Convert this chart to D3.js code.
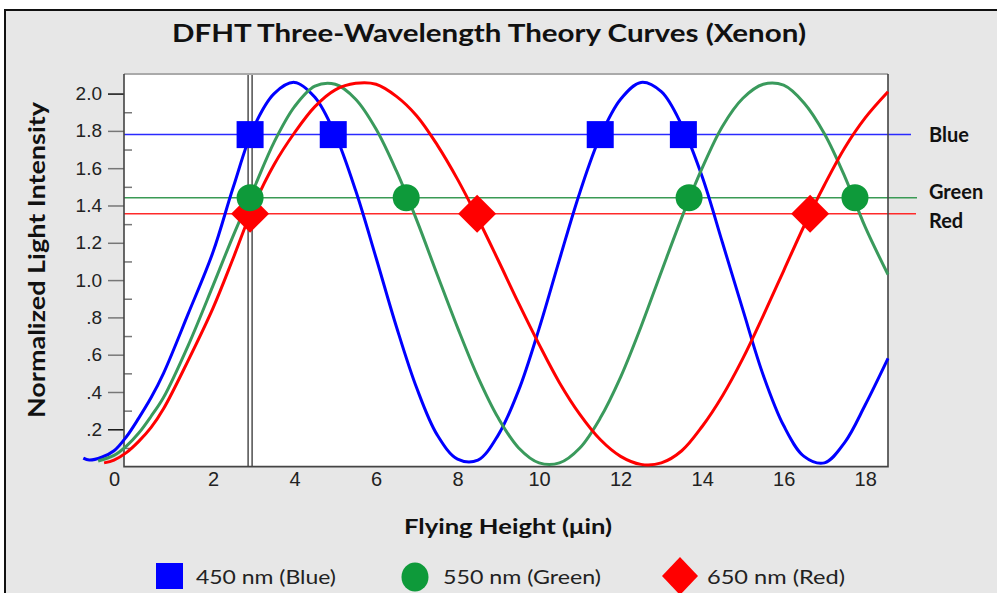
<!DOCTYPE html>
<html><head><meta charset="utf-8">
<script src="https://cdn.jsdelivr.net/npm/d3@7"></script>
<style>html,body{margin:0;padding:0;background:#fff;}svg{display:block}</style>
</head><body><svg id="c" width="997" height="593"></svg>
<script>
// ---------------- DATA ----------------
const titleText = "DFHT Three-Wavelength Theory Curves (Xenon)";
const xTitle = "Flying Height (\u03bcin)";
const yTitle = "Normalized Light Intensity";
const xTicks = [0, 2, 4, 6, 8, 10, 12, 14, 16, 18];
const yMajor = [0.2, 0.4, 0.6, 0.8, 1.0, 1.2, 1.4, 1.6, 1.8, 2.0];
const yMajorLabels = [".2", ".4", ".6", ".8", "1.0", "1.2", "1.4", "1.6", "1.8", "2.0"];
const yMinor = [0.1, 0.3, 0.5, 0.7, 0.9, 1.1, 1.3, 1.5, 1.7, 1.9];

const seriesNames = ["Blue", "Green", "Red"];
const legendLabels = ["450 nm (Blue)", "550 nm (Green)", "650 nm (Red)"];
const referenceLevels = [1.78, 1.442, 1.356];   // Blue, Green, Red horizontal lines
const referenceHeight = 2.91;                    // vertical double line

const blueCurve = [[-0.62,0.045],[-0.5,0.035],[-0.25,0.05],[0,0.085],[0.25,0.16],[0.5,0.26],[0.75,0.37],[1,0.5],[1.5,0.82],[2,1.15],[2.5,1.5],[3,1.82],[3.5,2.0],[4,2.06],[4.5,1.98],[5,1.78],[5.5,1.48],[6,1.12],[6.5,0.75],[7,0.42],[7.5,0.17],[8,0.04],[8.5,0.035],[9,0.17],[9.5,0.41],[10,0.74],[10.5,1.11],[11,1.47],[11.5,1.77],[12,1.97],[12.5,2.06],[13,2.01],[13.5,1.83],[14,1.555],[14.5,1.2],[15,0.84],[15.5,0.49],[16,0.22],[16.5,0.055],[17,0.02],[17.5,0.13],[18,0.33],[18.56,0.58]];
const greenCurve = [[-0.32,0.03],[0,0.06],[0.25,0.11],[0.5,0.18],[0.75,0.27],[1,0.37],[1.5,0.65],[2,0.97],[2.5,1.24],[3,1.49],[3.5,1.74],[4,1.93],[4.5,2.04],[5,2.05],[5.5,1.97],[6,1.81],[6.5,1.585],[7,1.32],[7.5,1.03],[8,0.745],[8.5,0.48],[9,0.26],[9.5,0.1],[10,0.02],[10.5,0.02],[11,0.1],[11.5,0.26],[12,0.48],[12.5,0.75],[13,1.045],[13.5,1.335],[14,1.6],[14.5,1.825],[15,1.975],[15.5,2.05],[16,2.045],[16.5,1.95],[17,1.785],[17.5,1.555],[18,1.285],[18.56,1.03]];
const redCurve = [[-0.2,0.02],[0,0.035],[0.25,0.075],[0.5,0.135],[0.75,0.21],[1,0.31],[1.5,0.57],[2,0.85],[2.5,1.12],[3,1.4],[3.5,1.62],[4,1.79],[4.5,1.93],[5,2.02],[5.5,2.055],[6,2.05],[6.5,1.985],[7,1.88],[7.5,1.725],[8,1.54],[8.5,1.33],[9,1.105],[9.5,0.875],[10,0.655],[10.5,0.45],[11,0.28],[11.5,0.145],[12,0.055],[12.5,0.012],[13,0.02],[13.5,0.085],[14,0.215],[14.5,0.38],[15,0.58],[15.5,0.81],[16,1.05],[16.5,1.29],[17,1.51],[17.5,1.71],[18,1.87],[18.56,2.01]];

const blueMarkers = [2.91, 4.95, 11.5, 13.54];
const greenMarkers = [2.91, 6.74, 13.68, 17.75];
const redMarkers = [2.91, 8.48, 16.65];

// ---------------- LAYOUT / STYLE ----------------
const W = 997, H = 593;
const plot = {left: 124, right: 888, top: 74, bottom: 466.6};
const curveColors = ["#0000ff", "#3a9a5c", "#ff0000"];
const markerColors = ["#0000ff", "#0e9a3a", "#ff0000"];
const refColors = ["#2a2aff", "#3a9a55", "#ff2a2a"];

const x = d3.scaleLinear().domain([0, 2, 18.56]).range([plot.left - 10, plot.left + 89, plot.right]);
const y = d3.scaleLinear().domain([0, 2.105]).range([plot.bottom, plot.top]);

const svg = d3.select("#c");

// frame background
svg.append("rect").attr("x", 0).attr("y", 0).attr("width", W).attr("height", H).attr("fill", "#fff");
svg.append("rect").attr("x", 4).attr("y", 9).attr("width", W - 4).attr("height", H - 9).attr("fill", "#e7e7e7");
svg.append("path").attr("d", `M5,${H} V10 H${W}`).attr("fill", "none").attr("stroke", "#111").attr("stroke-width", 2);

// title
svg.append("text").attr("x", 489).attr("y", 42).attr("text-anchor", "middle")
  .attr("font-family", "Lato, 'Open Sans', sans-serif").attr("font-weight", "bold").attr("font-size", 24)
  .attr("fill", "#111").attr("textLength", 634).attr("lengthAdjust", "spacingAndGlyphs").text(titleText);

// plot area
svg.append("rect").attr("x", plot.left).attr("y", plot.top).attr("width", plot.right - plot.left)
  .attr("height", plot.bottom - plot.top).attr("fill", "#fff");

// y axis major ticks
const yAxis = d3.axisLeft(y).tickValues(yMajor).tickFormat((d, i) => yMajorLabels[i]).tickSize(16).tickPadding(6);
const gy = svg.append("g").attr("transform", `translate(${plot.left},0)`).call(yAxis);
gy.select(".domain").remove();
gy.selectAll(".tick line").attr("stroke", (d, i) => (i === 0 || i === yMajor.length - 1) ? "#111" : "#777").attr("stroke-width", 1.5);
gy.selectAll(".tick text").attr("font-family", "'Liberation Sans', Arial, sans-serif").attr("font-size", 19).attr("fill", "#222");

// y axis minor ticks (inside)
const yMinorAxis = d3.axisRight(y).tickValues(yMinor).tickFormat("").tickSize(8);
const gym = svg.append("g").attr("transform", `translate(${plot.left},0)`).call(yMinorAxis);
gym.select(".domain").remove();
gym.selectAll(".tick line").attr("stroke", "#777").attr("stroke-width", 1.5);

// x axis labels
const xAxis = d3.axisBottom(x).tickValues(xTicks).tickFormat(d3.format("d")).tickSize(0).tickPadding(5);
const gx = svg.append("g").attr("transform", `translate(0,${plot.bottom})`).call(xAxis);
gx.select(".domain").remove();
gx.selectAll(".tick text").attr("font-family", "'Liberation Sans Narrow', 'Liberation Sans', Arial, sans-serif").attr("font-size", 20).attr("fill", "#222");

// horizontal reference lines
const refEnds = [911, 917, 916];
svg.append("g").selectAll("line").data(referenceLevels).join("line")
  .attr("x1", plot.left).attr("x2", (d, i) => refEnds[i])
  .attr("y1", d => y(d)).attr("y2", d => y(d))
  .attr("stroke", (d, i) => refColors[i]).attr("stroke-width", 1.5);

// vertical double line
svg.append("g").selectAll("line").data([-2, 2]).join("line")
  .attr("x1", d => x(referenceHeight) + d).attr("x2", d => x(referenceHeight) + d)
  .attr("y1", plot.top).attr("y2", plot.bottom)
  .attr("stroke", "#333").attr("stroke-width", 1.3);

// plot border
svg.append("path").attr("d", `M${plot.left},${plot.top} H${plot.right}`).attr("stroke", "#aaa").attr("stroke-width", 2).attr("fill", "none");
svg.append("path").attr("d", `M${plot.left},${plot.top} V${plot.bottom} H${plot.right} V${plot.top}`).attr("stroke", "#444").attr("stroke-width", 1.6).attr("fill", "none");

// curves
const line = d3.line().x(d => x(d[0])).y(d => y(d[1])).curve(d3.curveCatmullRom.alpha(0.5));
[blueCurve, greenCurve, redCurve].forEach((c, i) => {
  svg.append("path").datum(c).attr("d", line).attr("fill", "none")
    .attr("stroke", curveColors[i]).attr("stroke-width", 3).attr("stroke-linejoin", "round");
});

// markers
const sqr = 27, circR = 13.5, dia = 19;
svg.append("g").selectAll("path").data(redMarkers).join("path")
  .attr("d", d => { const cx = x(d), cy = y(referenceLevels[2]); return `M${cx},${cy - dia} L${cx + dia},${cy} L${cx},${cy + dia} L${cx - dia},${cy} Z`; })
  .attr("fill", markerColors[2]);
svg.append("g").selectAll("circle").data(greenMarkers).join("circle")
  .attr("cx", d => x(d)).attr("cy", d => y(referenceLevels[1])).attr("r", circR).attr("fill", markerColors[1]);
svg.append("g").selectAll("rect").data(blueMarkers).join("rect")
  .attr("x", d => x(d) - sqr / 2).attr("y", d => y(referenceLevels[0]) - sqr / 2)
  .attr("width", sqr).attr("height", sqr).attr("fill", markerColors[0]);

// right-side labels
const labelDy = [7, 1, 14];
svg.append("g").selectAll("text").data(seriesNames).join("text")
  .attr("x", 929).attr("y", (d, i) => y(referenceLevels[i]) + labelDy[i])
  .attr("font-family", "Lato, 'Open Sans', sans-serif").attr("font-weight", "bold").attr("font-size", 20)
  .attr("fill", "#111").text(d => d);

// axis titles
svg.append("text").attr("transform", "translate(45,260) rotate(-90)").attr("text-anchor", "middle")
  .attr("font-family", "Lato, 'Open Sans', sans-serif").attr("font-weight", "bold").attr("font-size", 23)
  .attr("fill", "#111").attr("textLength", 316).attr("lengthAdjust", "spacingAndGlyphs").text(yTitle);
svg.append("text").attr("x", 508).attr("y", 534).attr("text-anchor", "middle")
  .attr("font-family", "Lato, 'Open Sans', sans-serif").attr("font-weight", "bold").attr("font-size", 21)
  .attr("fill", "#111").attr("textLength", 208).attr("lengthAdjust", "spacingAndGlyphs").text(xTitle);

// legend
const legX = [169.5, 415, 680], legTextX = [196, 443, 707], legTextW = [140, 158, 138], legY = 576;
const leg = svg.append("g");
leg.append("rect").attr("x", legX[0] - 13.5).attr("y", legY - 13).attr("width", 27).attr("height", 26).attr("fill", markerColors[0]);
leg.append("ellipse").attr("cx", legX[1]).attr("cy", legY + 1).attr("rx", 13.5).attr("ry", 14.5).attr("fill", markerColors[1]);
leg.append("path").attr("d", `M${legX[2]},${legY - 19} L${legX[2] + 18},${legY} L${legX[2]},${legY + 19} L${legX[2] - 18},${legY} Z`).attr("fill", markerColors[2]);
leg.selectAll("text").data(legendLabels).join("text")
  .attr("x", (d, i) => legTextX[i]).attr("y", legY + 8)
  .attr("font-family", "Lato, 'Open Sans', sans-serif").attr("font-size", 20).attr("fill", "#222")
  .attr("textLength", (d, i) => legTextW[i]).attr("lengthAdjust", "spacingAndGlyphs").text(d => d);
</script></body></html>
